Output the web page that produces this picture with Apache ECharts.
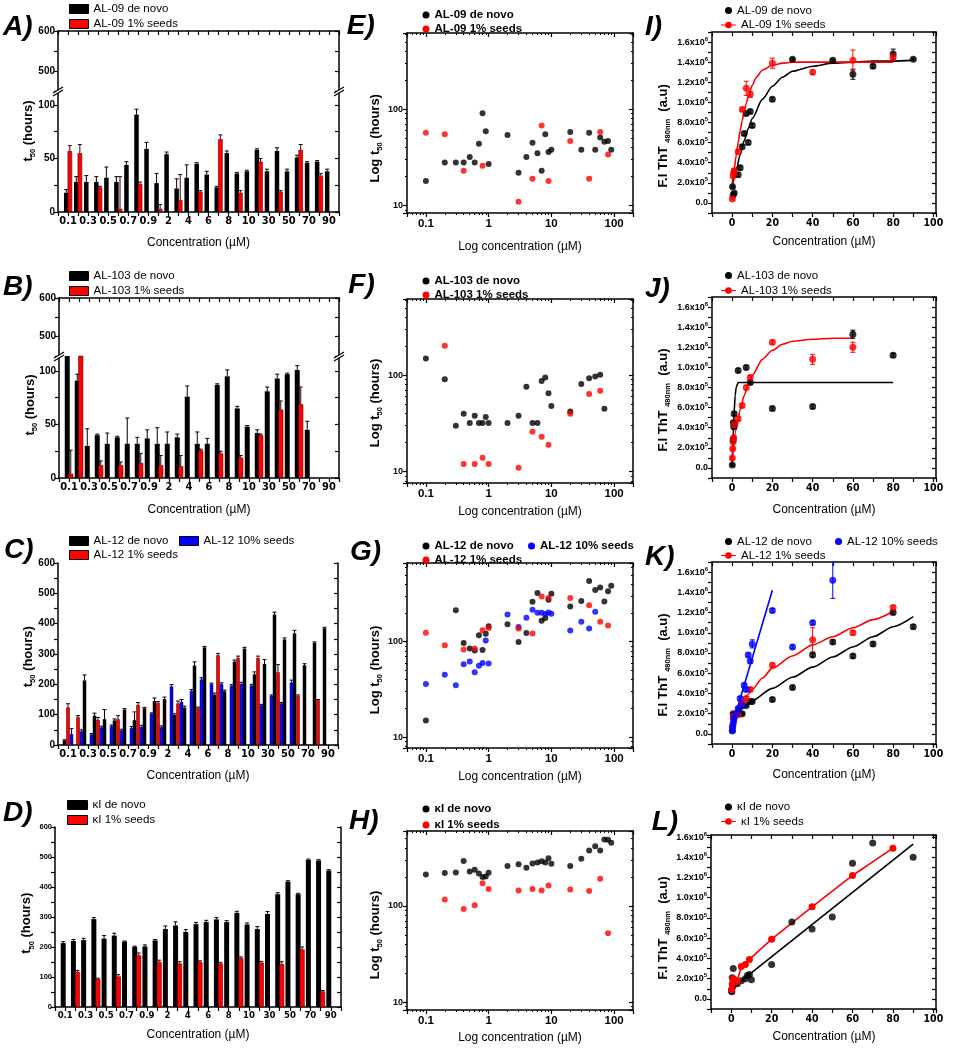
<!DOCTYPE html>
<html>
<head>
<meta charset="utf-8">
<script src="https://cdn.jsdelivr.net/npm/echarts@6/dist/echarts.min.js"></script>
<style>
html, body { margin: 0; padding: 0; background: #fff; }
#main { width: 953px; height: 1050px; }
</style>
</head>
<body>
<div id="main"></div>
<script>
// ---- data ----
// concentrations (uM), one bar slot each in panels A-D
const conc = [0.1, 0.2, 0.3, 0.4, 0.5, 0.6, 0.7, 0.8, 0.9, 1, 2, 3, 4, 5, 6, 7, 8, 9, 10, 20, 30, 40, 50, 60, 70, 80, 90];
const barTicks = ['0.1', '0.3', '0.5', '0.7', '0.9', '2', '4', '6', '8', '10', '30', '50', '70', '90'];

// t50 (hours); null = not measured
const al09Novo = [18, 28, 28, 28, 32, 28, 44, 91, 59, 27, 54, 22, 32, 45, 35, 23, 55, 36, 38, 58, 38, 57, 38, 51, 46, 47, 38];
const al09Seed = [57, 55, null, 23, null, 3, null, 26, null, 3, null, 11, null, 19, null, 68, null, 18, null, 47, null, 19, null, 58, null, 34, null];
const al09NovoErr = [3, 5, 6, 5, 10, 5, 3, 5, 6, 9, 2, 9, 12, 1, 3, 1, 2, 1, 1, 1, 2, 3, 2, 2, 1, 1, 2];
const al09SeedErr = [5, 8, null, 1, null, 30, null, 2, null, 4, null, 24, null, 1, null, 4, null, 2, null, 3, null, 1, null, 5, null, 2, null];

const al103Novo = [149, 91, 30, 40, 32, 38, 32, 32, 37, 32, 32, 38, 76, 32, 32, 87, 95, 65, 48, 42, 81, 93, 97, 101, 45, null, null];
const al103Seed = [4, 203, null, 12, null, 12, null, 14, null, 12, null, 11, null, 26, null, 23, null, 19, null, 40, null, 64, null, 69, null, null, null];
const al103NovoErr = [0, 6, 16, 1, 10, 1, 24, 6, 8, 15, 11, 3, 10, 11, 5, 1, 6, 2, 1, 3, 4, 4, 1, 4, 8, null, null];
const al103SeedErr = [22, 0, null, 4, null, 3, null, 9, null, 9, null, 10, null, 1, null, 2, null, 2, null, 1, null, 8, null, 16, null, null, null];

const al12Novo = [15, null, 213, 97, 85, 81, 117, 82, 121, 145, 152, 99, 123, 262, 322, 166, 177, 275, 318, 233, 267, 430, 348, 368, 263, 337, 385];
const al12Seed1 = [124, 92, null, 83, null, 85, null, 132, null, 139, null, 137, null, 122, null, 296, null, 287, null, 287, null, 240, null, 162, null, 148, null];
const al12Seed10 = [36, 45, 35, 58, 62, 48, 56, 60, 103, 59, 193, 142, 178, 216, 201, 201, 195, 202, 196, 131, 162, 137, 206, null, null, null, null];
const al12NovoErr = [2, null, 18, 8, 32, 5, 3, 27, 3, 10, 6, 4, 5, 12, 3, 5, 4, 5, 4, 8, 15, 8, 5, 10, 5, 3, 3];
const al12Seed1Err = [12, 5, null, 8, null, 12, null, 8, null, 4, null, 8, null, 3, null, 6, null, 6, null, 6, null, 25, null, 3, null, 2, null];
const al12Seed10Err = [18, 5, 3, 4, 4, 4, 5, 5, 3, 4, 6, 8, 5, 6, 3, 4, 4, 5, 4, 3, 3, 3, 8, null, null, null, null];

const kINovo = [213, 220, 223, 293, 228, 238, 218, 200, 202, 222, 260, 272, 250, 276, 283, 292, 283, 314, 275, 260, 310, 376, 418, 376, 490, 488, 455];
const kISeed = [null, 117, null, 93, null, 102, null, 172, null, 150, null, 145, null, 150, null, 145, null, 163, null, 148, null, 143, null, 192, null, 52, null];
const kINovoErr = [5, 5, 6, 5, 10, 8, 2, 3, 5, 3, 10, 12, 8, 6, 6, 6, 5, 5, 5, 8, 8, 5, 3, 3, 3, 3, 3];
const kISeedErr = [null, 5, null, 3, null, 6, null, 8, null, 6, null, 6, null, 4, null, 4, null, 4, null, 4, null, 8, null, 8, null, 3, null];

// ThT fluorescence at the end point, in units of 1e6 a.u.
const iNovoX = [0.2, 0.5, 1, 3, 4, 5, 6, 7, 8, 9, 10, 20, 30, 50, 60, 70, 80, 90];
const iNovoY = [0.16, 0.08, 0.1, 0.28, 0.35, 0.56, 0.69, 0.89, 0.6, 0.91, 0.77, 1.03, 1.43, 1.42, 1.28, 1.36, 1.48, 1.43];
const iNovoE = [0.01, 0.01, 0.01, 0.02, 0.02, 0.02, 0.02, 0.02, 0.02, 0.02, 0.02, 0.02, 0.01, 0.01, 0.05, 0.02, 0.05, 0.01];
const iSeedX = [0.1, 0.5, 0.8, 1, 3, 5, 7, 9, 20, 40, 60, 80];
const iSeedY = [0.04, 0.27, 0.3, 0.32, 0.51, 0.93, 1.14, 1.08, 1.39, 1.3, 1.42, 1.45];
const iSeedE = [0.01, 0.02, 0.02, 0.02, 0.02, 0.02, 0.07, 0.03, 0.05, 0.02, 0.1, 0.02];
const iNovoFitX = [0, 2, 4, 6, 8, 10, 15, 20, 25, 30, 40, 50, 60, 70, 80, 90];
const iNovoFitY = [0.15, 0.32, 0.48, 0.62, 0.74, 0.84, 1.03, 1.16, 1.25, 1.31, 1.36, 1.39, 1.40, 1.41, 1.41, 1.42];
const iSeedFitX = [0, 1, 2, 3, 4, 5, 6, 7, 8, 10, 12, 15, 20, 25, 30, 40, 60, 80];
const iSeedFitY = [0.18, 0.33, 0.47, 0.6, 0.72, 0.82, 0.91, 0.99, 1.06, 1.17, 1.25, 1.32, 1.37, 1.39, 1.40, 1.40, 1.40, 1.40];

const jNovoX = [0.1, 0.5, 0.6, 0.8, 1, 3, 7, 9, 20, 40, 60, 80];
const jNovoY = [0.03, 0.28, 0.45, 0.41, 0.54, 0.97, 1.0, 0.85, 0.59, 0.61, 1.33, 1.12];
const jNovoE = [0.01, 0.02, 0.02, 0.02, 0.02, 0.02, 0.02, 0.02, 0.02, 0.02, 0.04, 0.02];
const jSeedX = [0.1, 0.3, 0.5, 0.8, 1, 3, 5, 7, 9, 20, 40, 60];
const jSeedY = [0.1, 0.19, 0.26, 0.3, 0.43, 0.49, 0.62, 0.8, 0.9, 1.25, 1.08, 1.2];
const jSeedE = [0.01, 0.01, 0.01, 0.02, 0.02, 0.02, 0.02, 0.02, 0.02, 0.02, 0.05, 0.05];
const jNovoFitX = [0, 0.5, 1, 1.5, 2, 3, 80];
const jNovoFitY = [0.02, 0.3, 0.55, 0.72, 0.8, 0.85, 0.85];
const jSeedFitX = [0, 2, 4, 6, 8, 10, 15, 20, 25, 30, 40, 50, 60];
const jSeedFitY = [0.08, 0.38, 0.58, 0.72, 0.83, 0.92, 1.08, 1.17, 1.23, 1.26, 1.28, 1.29, 1.29];

const kNovoX = [0.1, 0.5, 1, 4, 5, 7, 9, 10, 20, 30, 40, 50, 60, 70, 80, 90];
const kNovoY = [0.03, 0.2, 0.17, 0.2, 0.2, 0.28, 0.32, 0.32, 0.34, 0.46, 0.78, 0.91, 0.77, 0.89, 1.2, 1.06];
const kNovoE = [0.01, 0.01, 0.01, 0.01, 0.01, 0.01, 0.01, 0.01, 0.02, 0.02, 0.02, 0.02, 0.02, 0.02, 0.02, 0.02];
const kSeed1X = [0.1, 0.5, 1, 2, 3, 5, 7, 9, 20, 40, 60, 80];
const kSeed1Y = [0.07, 0.16, 0.18, 0.2, 0.19, 0.3, 0.35, 0.44, 0.68, 0.93, 1.0, 1.25];
const kSeed1E = [0.01, 0.01, 0.01, 0.01, 0.01, 0.02, 0.02, 0.02, 0.02, 0.12, 0.02, 0.02];
const kSeed10X = [0.1, 0.3, 0.5, 0.8, 1, 2, 3, 4, 5, 6, 7, 8, 9, 10, 20, 30, 40, 50];
const kSeed10Y = [0.03, 0.07, 0.1, 0.13, 0.16, 0.2, 0.25, 0.35, 0.28, 0.48, 0.44, 0.78, 0.72, 0.89, 1.22, 0.86, 1.1, 1.52];
const kSeed10E = [0.01, 0.01, 0.01, 0.01, 0.01, 0.01, 0.01, 0.02, 0.02, 0.02, 0.02, 0.02, 0.02, 0.04, 0.02, 0.02, 0.02, 0.18];
const kNovoFitX = [0, 5, 10, 20, 30, 40, 50, 60, 70, 80, 90];
const kNovoFitY = [0.12, 0.25, 0.33, 0.45, 0.56, 0.66, 0.76, 0.86, 0.96, 1.06, 1.16];
const kSeed1FitX = [0, 2, 5, 8, 10, 15, 20, 30, 40, 50, 60, 70, 80];
const kSeed1FitY = [0.13, 0.2, 0.3, 0.39, 0.44, 0.55, 0.65, 0.77, 0.88, 0.96, 1.05, 1.13, 1.21];
const kSeed10FitX = [0, 20];
const kSeed10FitY = [0.08, 1.42];

const lNovoX = [0.1, 0.3, 0.5, 0.8, 1, 2, 3, 5, 7, 8, 9, 10, 20, 30, 40, 50, 60, 70, 90];
const lNovoY = [0.08, 0.07, 0.21, 0.12, 0.3, 0.18, 0.15, 0.18, 0.2, 0.23, 0.24, 0.19, 0.34, 0.76, 0.69, 0.81, 1.34, 1.54, 1.4];
const lSeedX = [0.1, 0.5, 1, 2, 3, 5, 7, 9, 20, 40, 60, 80];
const lSeedY = [0.09, 0.15, 0.2, 0.17, 0.18, 0.32, 0.34, 0.39, 0.59, 0.91, 1.22, 1.49];
const lNovoFitX = [0, 90];
const lNovoFitY = [0.1, 1.53];

// ---- helpers ----
const FONT = "'Liberation Sans', Arial, sans-serif";
const NARROW = "'Liberation Sans Narrow', 'Arial Narrow', 'DejaVu Sans Condensed', sans-serif";
const BLACK = '#000000', RED = '#ff0000', BLUE = '#0000ff';

const grids = [], xAxes = [], yAxes = [], series = [], legends = [], graphics = [];

function tick(inside) {
    return { show: true, inside: inside, length: 4, lineStyle: { color: '#000', width: 1.2 } };
}
function minor() {
    return { show: true, splitNumber: 9, length: 2, lineStyle: { color: '#000', width: 1 } };
}
function addGrid(left, top, width, height) {
    grids.push({ left: left, top: top, width: width, height: height, containLabel: false, outerBoundsMode: 'none' });
    return grids.length - 1;
}
function addX(gi, o) {
    xAxes.push(Object.assign({ gridIndex: gi, splitLine: { show: false },
        axisLine: { show: true, onZero: false, lineStyle: { color: '#000', width: 1.5 } } }, o));
    return xAxes.length - 1;
}
function addY(gi, o) {
    yAxes.push(Object.assign({ gridIndex: gi, splitLine: { show: false },
        axisLine: { show: true, onZero: false, lineStyle: { color: '#000', width: 1.5 } } }, o));
    return yAxes.length - 1;
}
function pairs(xs, ys) { return xs.map((x, i) => [x, ys[i]]); }
function triples(xs, ys, es) { return xs.map((x, i) => [x, ys[i], es[i]]); }

function barErr(offset, color) {
    return function (params, api) {
        const x = api.value(0), v = api.value(1), e = api.value(2);
        const a = api.coord([x, v]), b = api.coord([x, v + e]);
        const cx = a[0] + offset;
        return { type: 'group', children: [
            { type: 'line', shape: { x1: cx, y1: a[1], x2: cx, y2: b[1] }, style: { stroke: color, lineWidth: 1 } },
            { type: 'line', shape: { x1: cx - 2, y1: b[1], x2: cx + 2, y2: b[1] }, style: { stroke: color, lineWidth: 1 } }
        ] };
    };
}
function symErr(color) {
    return function (params, api) {
        const x = api.value(0), v = api.value(1), e = api.value(2);
        const lo = api.coord([x, v - e]), hi = api.coord([x, v + e]);
        const cx = lo[0];
        return { type: 'group', children: [
            { type: 'line', shape: { x1: cx, y1: lo[1], x2: cx, y2: hi[1] }, style: { stroke: color, lineWidth: 1 } },
            { type: 'line', shape: { x1: cx - 2.5, y1: hi[1], x2: cx + 2.5, y2: hi[1] }, style: { stroke: color, lineWidth: 1 } },
            { type: 'line', shape: { x1: cx - 2.5, y1: lo[1], x2: cx + 2.5, y2: lo[1] }, style: { stroke: color, lineWidth: 1 } }
        ] };
    };
}

function legendItem(name, left, top, o) {
    legends.push({
        left: left, top: top, padding: 0, itemGap: 0, selectedMode: false,
        itemWidth: o.w, itemHeight: o.h,
        data: [{ name: name, icon: o.icon, itemStyle: o.style }],
        textStyle: { color: '#000', fontFamily: FONT, fontSize: o.fs, fontWeight: o.fw || 'normal', padding: [0, 0, 0, o.pad || 0] }
    });
}
function barLegend(name, color, left, top, w) {
    legendItem(name, left, top, { w: w || 19, h: 9, icon: 'rect', fs: 11.5,
        style: { color: color, borderColor: '#000', borderWidth: 1 } });
}
function dotLegend(name, color, left, top, bold) {
    legendItem(name, left, top, { w: 7, h: 7, icon: 'circle', fs: 11.5, fw: bold ? 'bold' : 'normal',
        style: { color: color, borderWidth: 0 } });
}
const LINE_DOT = 'path://M0,3.5h5v1h-5zM13,3.5h5v1h-5zM5,4a4,4 0 1,0 8,0a4,4 0 1,0 -8,0z';
function lineDotLegend(name, color, left, top) {
    legendItem(name, left, top, { w: 15, h: 7, icon: LINE_DOT, fs: 11.5, style: { color: color, borderWidth: 0 } });
}

// ---- bar panels A-D ----
function barX(gi, pos, fs) {
    return addX(gi, { type: 'value', position: pos, min: -1, max: 27, interval: 1,
        axisTick: tick(pos !== 'bottom'),
        axisLabel: fs ? { show: true, color: '#000', fontFamily: NARROW, fontWeight: 'bold', fontSize: fs, margin: 4,
            formatter: function (v) { const k = Math.round(v); return (k >= 0 && k % 2 === 0) ? barTicks[k / 2] : ''; } }
            : { show: false } });
}
function barY(gi, pos, min, max, step, fs) {
    return addY(gi, { type: 'value', position: pos, min: min, max: max, interval: step / 2,
        axisTick: tick(pos === 'right'),
        axisLabel: fs ? { show: true, color: '#000', fontFamily: FONT, fontWeight: 'bold', fontSize: fs, margin: 3,
            formatter: function (v) { const k = Math.round(v); return (k % step === 0) ? String(k) : ''; } }
            : { show: false } });
}
function barPanel(c) {
    const lowTop = c.brk ? c.brk.at : c.top;
    const lowMax = c.brk ? c.brk.lowMax : 600;
    const step = c.brk ? 50 : 100;
    const gi = addGrid(c.left, lowTop, c.width, c.bottom - lowTop);
    const xb = barX(gi, 'bottom', c.xFs);
    const yl = barY(gi, 'left', 0, lowMax, step, c.yFs);
    barY(gi, 'right', 0, lowMax, step, 0);
    if (c.brk) {
        const up = addGrid(c.left, c.top, c.width, c.brk.at - c.top);
        barX(up, 'top', 0);
        barY(up, 'left', c.brk.highMin, 600, 100, c.yFs);
        barY(up, 'right', c.brk.highMin, 600, 100, 0);
        [c.left, c.left + c.width].forEach(function (x) {
            const y = c.brk.at;
            graphics.push({ type: 'polygon', shape: { points: [[x - 5, y + 2], [x + 5, y - 4], [x + 5, y - 1], [x - 5, y + 5]] },
                style: { fill: '#fff' }, z: 100 });
            graphics.push({ type: 'line', shape: { x1: x - 5, y1: y + 2, x2: x + 5, y2: y - 4 }, style: { stroke: '#000', lineWidth: 1.2 }, z: 101 });
            graphics.push({ type: 'line', shape: { x1: x - 5, y1: y + 5, x2: x + 5, y2: y - 1 }, style: { stroke: '#000', lineWidth: 1.2 }, z: 101 });
        });
    }
    const n = c.ser.length, w = c.w, g = c.gap;
    const total = n * w + (n - 1) * g * w;
    c.ser.forEach(function (s, i) {
        const off = -total / 2 + w / 2 + i * w * (1 + g);
        const pts = [], errs = [];
        s.data.forEach(function (v, k) {
            if (v == null) return;
            pts.push([k, v]);
            if (s.err && s.err[k] && v + s.err[k] <= lowMax) errs.push([k, v, s.err[k]]);
        });
        series.push({ type: 'bar', name: s.name, xAxisIndex: xb, yAxisIndex: yl, data: pts,
            barWidth: w, barGap: (g * 100) + '%', clip: true, silent: true,
            itemStyle: { color: s.color, borderColor: s.edge || s.color, borderWidth: s.edge ? 0.6 : 0 } });
        series.push({ type: 'custom', xAxisIndex: xb, yAxisIndex: yl, data: errs, clip: true, silent: true, z: 3,
            renderItem: barErr(off, s.errColor) });
    });
}

// ---- log panels E-H ----
function decadeFmt(v) {
    const l = Math.log10(v);
    if (Math.abs(l - Math.round(l)) > 1e-6) return '';
    return String(Math.pow(10, Math.round(l)));
}
function logPanel(c) {
    const gi = addGrid(407, c.top, 226, c.height);
    const xo = { type: 'log', logBase: 10, min: 0.05, max: 200, minorTick: minor() };
    const yo = { type: 'log', logBase: 10, min: c.yMin, max: c.yMax, minorTick: minor() };
    const xb = addX(gi, Object.assign({ position: 'bottom', axisTick: tick(false),
        axisLabel: { color: '#000', fontFamily: FONT, fontWeight: 'bold', fontSize: 11.5, margin: 5, formatter: decadeFmt } }, xo));
    addX(gi, Object.assign({ position: 'top', axisTick: tick(true), axisLabel: { show: false } }, xo));
    const yl = addY(gi, Object.assign({ position: 'left', axisTick: tick(false),
        axisLabel: { color: '#000', fontFamily: FONT, fontWeight: 'bold', fontSize: 9, margin: 4, formatter: decadeFmt } }, yo));
    addY(gi, Object.assign({ position: 'right', axisTick: tick(true), axisLabel: { show: false } }, yo));
    c.ser.forEach(function (s) {
        const pts = [];
        s.data.forEach(function (v, k) { if (v != null) pts.push([conc[k], v]); });
        series.push({ type: 'scatter', name: s.name, xAxisIndex: xb, yAxisIndex: yl, data: pts,
            symbolSize: 6, clip: true, silent: true, itemStyle: { color: s.color } });
    });
}

// ---- ThT panels I-L ----
function sciFmt(v) {
    const k = Math.round(v * 10);
    if (k < 0 || k % 2 !== 0 || Math.abs(v * 10 - k) > 1e-6) return '';
    if (k === 0) return '{a|0.0}';
    if (k < 10) return '{a|' + k + '.0x10}{p|5}';
    return '{a|' + (k / 10).toFixed(1) + 'x10}{p|6}';
}
function fitPanel(c) {
    const gi = addGrid(c.left, c.top, c.width, c.height);
    const xo = { type: 'value', min: -10, max: 101.3, interval: 10 };
    const yo = { type: 'value', min: -0.1, max: c.yMax, interval: 0.1 };
    const xb = addX(gi, Object.assign({ position: 'bottom', axisTick: tick(false),
        axisLabel: { color: '#000', fontFamily: NARROW, fontWeight: 'bold', fontSize: 10.5, margin: 5,
            formatter: function (v) { const k = Math.round(v); return (k >= 0 && k <= 100 && k % 20 === 0 && Math.abs(v - k) < 1e-6) ? String(k) : ''; } } }, xo));
    addX(gi, Object.assign({ position: 'top', axisTick: tick(true), axisLabel: { show: false } }, xo));
    const yl = addY(gi, Object.assign({ position: 'left', axisTick: tick(false),
        axisLabel: { color: '#000', margin: 4, formatter: sciFmt,
            rich: { a: { fontFamily: FONT, fontWeight: 'bold', fontSize: 9, color: '#000', lineHeight: 12 },
                    p: { fontFamily: FONT, fontWeight: 'bold', fontSize: 6, color: '#000', verticalAlign: 'top' } } } }, yo));
    addY(gi, Object.assign({ position: 'right', axisTick: tick(true), axisLabel: { show: false } }, yo));
    c.fits.forEach(function (f) {
        series.push({ type: 'line', name: '', xAxisIndex: xb, yAxisIndex: yl, data: pairs(f.x, f.y),
            showSymbol: false, smooth: f.smooth ? 0.25 : false, smoothMonotone: 'x', clip: true, silent: true,
            lineStyle: { color: f.color, width: 1.6 }, z: 2 });
    });
    c.ser.forEach(function (s) {
        if (s.e) {
            series.push({ type: 'custom', xAxisIndex: xb, yAxisIndex: yl, data: triples(s.x, s.y, s.e),
                clip: true, silent: true, z: 3, renderItem: symErr(s.color) });
        }
        series.push({ type: s.joined ? 'line' : 'scatter', name: s.name, xAxisIndex: xb, yAxisIndex: yl,
            data: pairs(s.x, s.y), symbol: 'circle', symbolSize: 7, clip: true, silent: true, z: 4,
            showSymbol: true, itemStyle: { color: s.color }, lineStyle: { color: s.color, width: 1.6 } });
    });
}

// ---- build panels ----
barPanel({ left: 58, width: 281, top: 31, bottom: 212, brk: { at: 91, lowMax: 113, highMin: 450 }, xFs: 11, yFs: 10,
    w: 4.5, gap: -0.2, ser: [
        { name: 'AL-09 de novo', data: al09Novo, err: al09NovoErr, color: BLACK, errColor: '#000' },
        { name: 'AL-09 1% seeds', data: al09Seed, err: al09SeedErr, color: RED, edge: '#5a0000', errColor: '#300' }] });
barPanel({ left: 59, width: 280, top: 298, bottom: 478, brk: { at: 356, lowMax: 114, highMin: 450 }, xFs: 11, yFs: 10,
    w: 5, gap: -0.3, ser: [
        { name: 'AL-103 de novo', data: al103Novo, err: al103NovoErr, color: BLACK, errColor: '#000' },
        { name: 'AL-103 1% seeds', data: al103Seed, err: al103SeedErr, color: RED, edge: '#5a0000', errColor: '#300' }] });
barPanel({ left: 58, width: 280, top: 563, bottom: 745, brk: null, xFs: 11, yFs: 10,
    w: 3.5, gap: 0, ser: [
        { name: 'AL-12 de novo', data: al12Novo, err: al12NovoErr, color: BLACK, errColor: '#000' },
        { name: 'AL-12 1% seeds', data: al12Seed1, err: al12Seed1Err, color: RED, edge: '#5a0000', errColor: '#300' },
        { name: 'AL-12 10% seeds', data: al12Seed10, err: al12Seed10Err, color: BLUE, edge: '#00005a', errColor: '#003' }] });
barPanel({ left: 55, width: 286, top: 827, bottom: 1007, brk: null, xFs: 9.5, yFs: 7.5,
    w: 5, gap: -0.2, ser: [
        { name: 'κI de novo', data: kINovo, err: kINovoErr, color: BLACK, errColor: '#000' },
        { name: 'κI 1% seeds', data: kISeed, err: kISeedErr, color: RED, edge: '#5a0000', errColor: '#300' }] });

logPanel({ top: 33, height: 180, yMin: 8.4, yMax: 618, ser: [
    { name: 'AL-09 de novo', data: al09Novo, color: BLACK }, { name: 'AL-09 1% seeds', data: al09Seed, color: RED }] });
logPanel({ top: 299, height: 184, yMin: 7.64, yMax: 618, ser: [
    { name: 'AL-103 de novo', data: al103Novo, color: BLACK }, { name: 'AL-103 1% seeds', data: al103Seed, color: RED }] });
logPanel({ top: 563, height: 185, yMin: 7.73, yMax: 665, ser: [
    { name: 'AL-12 de novo', data: al12Novo, color: BLACK }, { name: 'AL-12 10% seeds', data: al12Seed10, color: BLUE },
    { name: 'AL-12 1% seeds', data: al12Seed1, color: RED }] });
logPanel({ top: 831, height: 179, yMin: 8.32, yMax: 601, ser: [
    { name: 'κI de novo', data: kINovo, color: BLACK }, { name: 'κI 1% seeds', data: kISeed, color: RED }] });

fitPanel({ left: 712, top: 32, width: 224, height: 181, yMax: 1.7,
    fits: [{ x: iNovoFitX, y: iNovoFitY, color: BLACK, smooth: true }, { x: iSeedFitX, y: iSeedFitY, color: RED, smooth: true }],
    ser: [{ name: 'AL-09 de novo', x: iNovoX, y: iNovoY, e: iNovoE, color: BLACK },
          { name: 'AL-09 1% seeds', x: iSeedX, y: iSeedY, e: iSeedE, color: RED }] });
fitPanel({ left: 712, top: 297, width: 224, height: 181, yMax: 1.7,
    fits: [{ x: jNovoFitX, y: jNovoFitY, color: BLACK, smooth: true }, { x: jSeedFitX, y: jSeedFitY, color: RED, smooth: true }],
    ser: [{ name: 'AL-103 de novo', x: jNovoX, y: jNovoY, e: jNovoE, color: BLACK },
          { name: 'AL-103 1% seeds', x: jSeedX, y: jSeedY, e: jSeedE, color: RED }] });
fitPanel({ left: 712, top: 562, width: 224, height: 182, yMax: 1.7,
    fits: [{ x: kNovoFitX, y: kNovoFitY, color: BLACK, smooth: true }, { x: kSeed1FitX, y: kSeed1FitY, color: RED, smooth: true },
           { x: kSeed10FitX, y: kSeed10FitY, color: BLUE, smooth: false }],
    ser: [{ name: 'AL-12 de novo', x: kNovoX, y: kNovoY, e: kNovoE, color: BLACK },
          { name: 'AL-12 1% seeds', x: kSeed1X, y: kSeed1Y, e: kSeed1E, color: RED },
          { name: 'AL-12 10% seeds', x: kSeed10X, y: kSeed10Y, e: kSeed10E, color: BLUE }] });
fitPanel({ left: 711, top: 835, width: 225, height: 174, yMax: 1.62,
    fits: [{ x: lNovoFitX, y: lNovoFitY, color: BLACK, smooth: false }],
    ser: [{ name: 'κI de novo', x: lNovoX, y: lNovoY, color: BLACK },
          { name: 'κI 1% seeds', x: lSeedX, y: lSeedY, color: RED, joined: true }] });

// ---- legends ----
barLegend('AL-09 de novo', BLACK, 69, 3); barLegend('AL-09 1% seeds', RED, 69, 18);
barLegend('AL-103 de novo', BLACK, 69, 270); barLegend('AL-103 1% seeds', RED, 69, 285);
barLegend('AL-12 de novo', BLACK, 69, 535); barLegend('AL-12 10% seeds', BLUE, 179, 535); barLegend('AL-12 1% seeds', RED, 69, 549);
barLegend('κI de novo', BLACK, 67, 799, 20); barLegend('κI 1% seeds', RED, 67, 814, 20);

dotLegend('AL-09 de novo', BLACK, 422.5, 9, true); dotLegend('AL-09 1% seeds', RED, 422.5, 23, true);
dotLegend('AL-103 de novo', BLACK, 422.5, 275, true); dotLegend('AL-103 1% seeds', RED, 422.5, 289, true);
dotLegend('AL-12 de novo', BLACK, 422.5, 540, true); dotLegend('AL-12 10% seeds', BLUE, 528, 540, true);
dotLegend('AL-12 1% seeds', RED, 422.5, 554, true);
dotLegend('κI de novo', BLACK, 422.5, 803, true); dotLegend('κI 1% seeds', RED, 422.5, 819, true);

dotLegend('AL-09 de novo', BLACK, 725, 4.5); lineDotLegend('AL-09 1% seeds', RED, 721, 19);
dotLegend('AL-103 de novo', BLACK, 725, 269.5); lineDotLegend('AL-103 1% seeds', RED, 721, 284.5);
dotLegend('AL-12 de novo', BLACK, 725, 535.5); dotLegend('AL-12 10% seeds', BLUE, 835, 535.5);
lineDotLegend('AL-12 1% seeds', RED, 721, 549.5);
dotLegend('κI de novo', BLACK, 725, 801); lineDotLegend('κI 1% seeds', RED, 721, 815.5);

// ---- titles and panel letters ----
const xTitles = [
    [198.5, 242.7, 'Concentration (µM)'], [199, 510, 'Concentration (µM)'], [198, 776, 'Concentration (µM)'], [198, 1035, 'Concentration (µM)'],
    [520, 246.7, 'Log concentration (µM)'], [520, 511.7, 'Log concentration (µM)'], [520, 777, 'Log concentration (µM)'], [520, 1038, 'Log concentration (µM)'],
    [824, 241.7, 'Concentration (µM)'], [824, 510, 'Concentration (µM)'], [824, 775, 'Concentration (µM)'], [824, 1037, 'Concentration (µM)']];
xTitles.forEach(function (t) {
    graphics.push({ type: 'text', x: t[0], y: t[1], style: { text: t[2], font: "12px 'Liberation Sans', Arial, sans-serif",
        fill: '#000', align: 'center', verticalAlign: 'middle' } });
});
const yRich = {
    b: { fontFamily: FONT, fontSize: 13, fontWeight: 'bold', lineHeight: 18, fill: '#000' },
    s: { fontFamily: FONT, fontSize: 7.5, fontWeight: 'bold', verticalAlign: 'bottom', fill: '#000' }
};
const yTitles = [
    [28.3, 131, '{b|t}{s|50}{b| (hours)}'], [30, 405, '{b|t}{s|50}{b| (hours)}'],
    [28.3, 656.7, '{b|t}{s|50}{b| (hours)}'], [26.7, 923.3, '{b|t}{s|50}{b| (hours)}'],
    [375, 138.3, '{b|Log t}{s|50}{b| (hours)}'], [375, 403, '{b|Log t}{s|50}{b| (hours)}'],
    [375, 670, '{b|Log t}{s|50}{b| (hours)}'], [375, 935, '{b|Log t}{s|50}{b| (hours)}'],
    [663.3, 135.8, '{b|F.I ThT }{s|480nm}{b|  (a.u)}'], [663.3, 400, '{b|F.I ThT }{s|480nm}{b|  (a.u)}'],
    [663.3, 665, '{b|F.I ThT }{s|480nm}{b|  (a.u)}'], [663.3, 928, '{b|F.I ThT }{s|480nm}{b|  (a.u)}']];
yTitles.forEach(function (t) {
    graphics.push({ type: 'text', x: t[0], y: t[1], rotation: Math.PI / 2,
        style: { text: t[2], rich: yRich, align: 'center', verticalAlign: 'middle', fill: '#000' } });
});
const letters = [
    [3, 27.2, 'A)'], [3, 287.5, 'B)'], [4, 550.3, 'C)'], [3, 812.8, 'D)'],
    [346.7, 25.8, 'E)'], [348.3, 285.5, 'F)'], [350, 552, 'G)'], [349, 820.8, 'H)'],
    [645, 27.5, 'I)'], [645, 289, 'J)'], [645, 557.5, 'K)'], [651.7, 822.5, 'L)']];
letters.forEach(function (t) {
    graphics.push({ type: 'text', x: t[0], y: t[1], style: { text: t[2], font: "italic bold 28px 'Liberation Sans', Arial, sans-serif",
        fill: '#000', align: 'left', verticalAlign: 'middle' } });
});

const chart = echarts.init(document.getElementById('main'));
chart.setOption({
    animation: false,
    backgroundColor: '#fff',
    grid: grids,
    xAxis: xAxes,
    yAxis: yAxes,
    legend: legends,
    series: series,
    graphic: graphics
});
</script>
</body>
</html>
